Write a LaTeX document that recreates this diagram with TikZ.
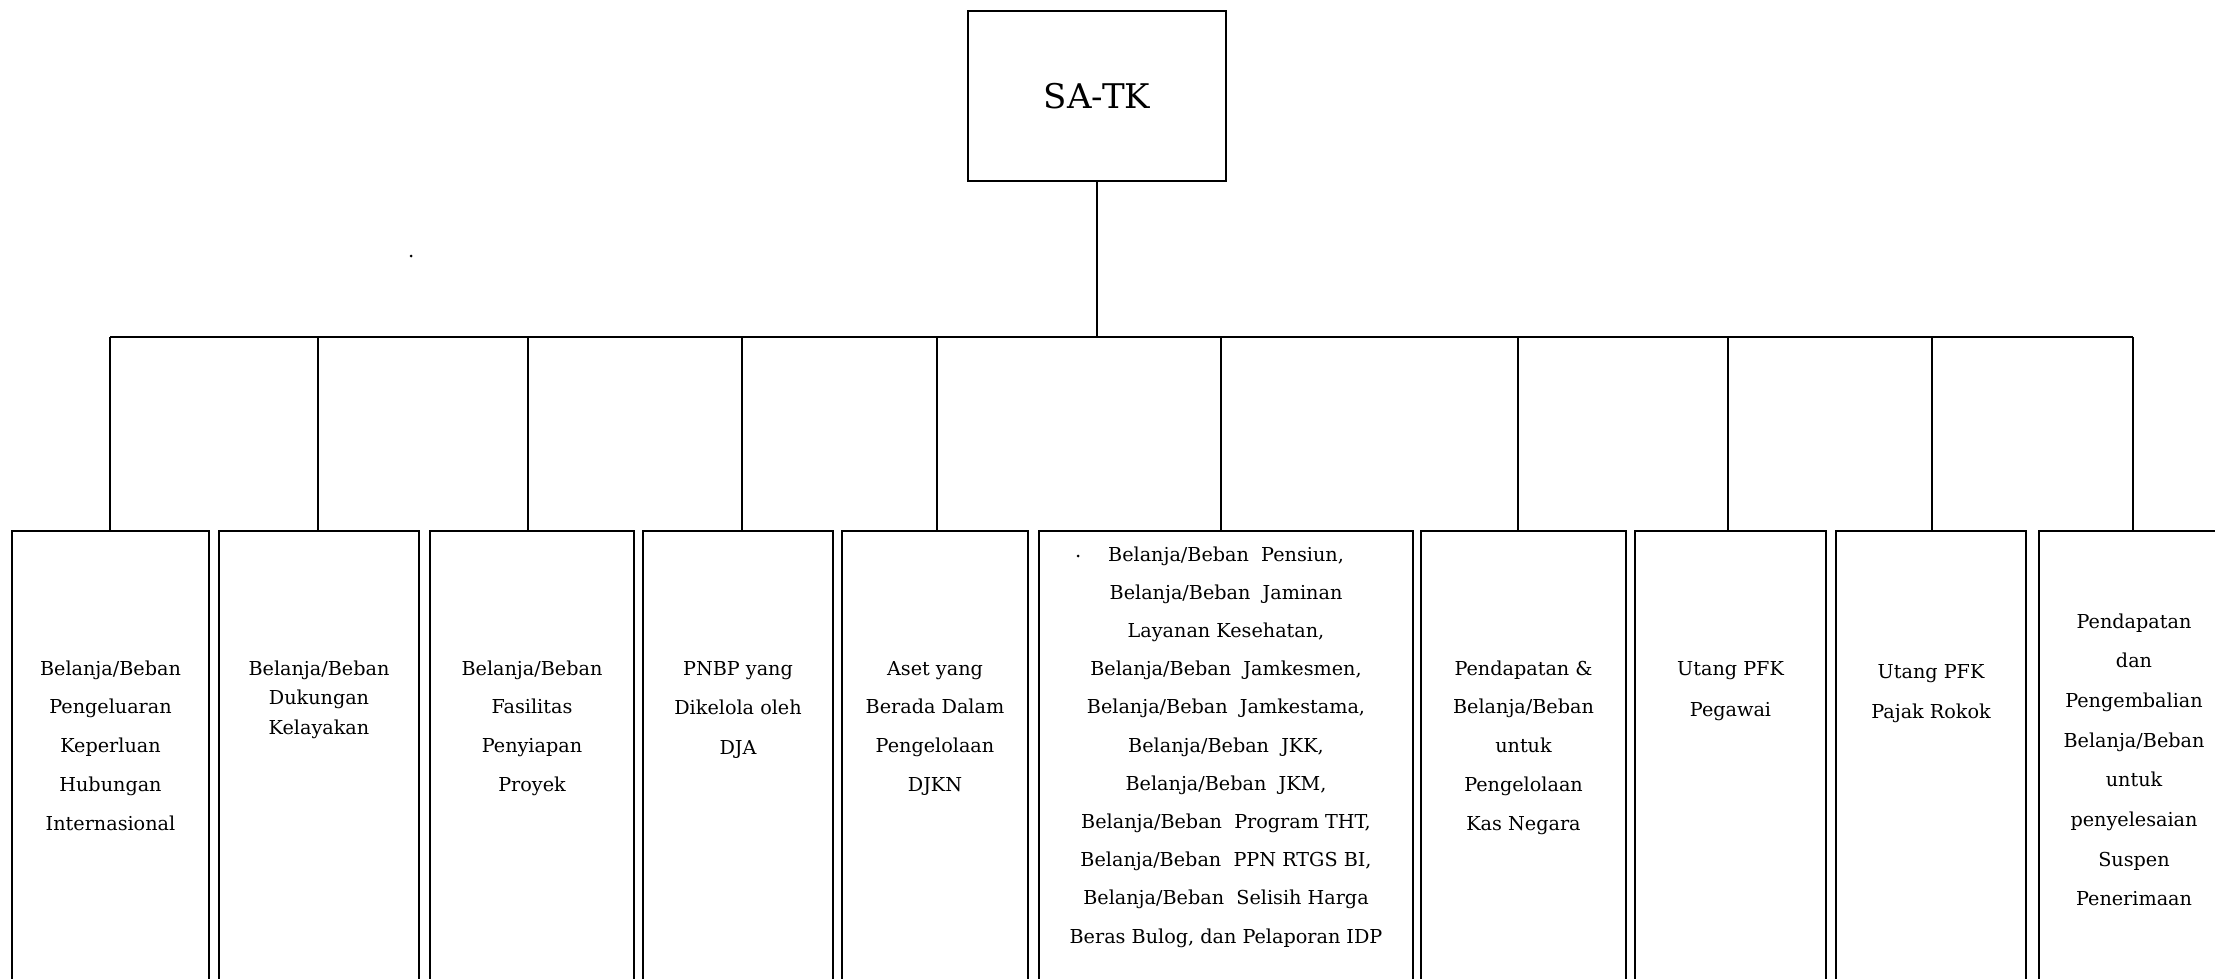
\documentclass[tikz,border=0pt]{standalone}
\usepackage{fontspec}
\setmainfont{DejaVu Serif}
\newcommand{\boxlines}[2]{\parbox[t]{190pt}{\centering\fontsize{9.6pt}{#1}\selectfont #2}}
\begin{document}
\begin{tikzpicture}[x=0.5pt,y=-0.5pt,
  topbox/.style={draw, line width=1pt, inner sep=0pt, minimum width=129pt, minimum height=85pt, font=\fontsize{17pt}{20pt}\selectfont},
  childbox/.style={draw, line width=1.1pt, inner sep=0pt, anchor=north, minimum height=270pt},
  lbl/.style={anchor=base, inner sep=0pt},
  conn/.style={line width=0.9pt}]
\useasboundingbox (0,0) rectangle (2215,979);
\clip (0,0) rectangle (2215,979);

\node[topbox] (sa) at (1097,96) {SA-TK};
\coordinate (bus) at (0,337);

\node[childbox, minimum width=98.5pt] (c1) at (110.5,530) {};
\node[childbox, minimum width=100pt] (c2) at (319,530) {};
\node[childbox, minimum width=102pt] (c3) at (532,530) {};
\node[childbox, minimum width=95pt] (c4) at (738,530) {};
\node[childbox, minimum width=93pt] (c5) at (935,530) {};
\node[childbox, minimum width=187pt] (c6) at (1226,530) {};
\node[childbox, minimum width=102.5pt] (c7) at (1523.5,530) {};
\node[childbox, minimum width=95.5pt] (c8) at (1730.5,530) {};
\node[childbox, minimum width=95pt] (c9) at (1931,530) {};
\node[childbox, minimum width=95pt] (c10) at (2134,530) {};

\foreach \i/\d in {1/110,2/318,3/528,4/742,5/937,6/1221,7/1518,8/1728,9/1932,10/2133}
  {\coordinate (d\i) at (\d,0);}
\draw[conn] (sa.south) -- (sa.south |- bus);
\draw[conn] (d1 |- bus) -- (d10 |- bus);
\foreach \i in {1,...,10} {\draw[conn] (d\i |- bus) -- (d\i |- c\i.north);}

\node[lbl] (t1) at (110.5,675) {\boxlines{19.4pt}{Belanja/Beban\\Pengeluaran\\Keperluan\\Hubungan\\Internasional}};
\node[lbl] (t2) at (319,675) {\boxlines{14.75pt}{Belanja/Beban\\Dukungan\\Kelayakan}};
\node[lbl] (t3) at (532,675) {\boxlines{19.35pt}{Belanja/Beban\\Fasilitas\\Penyiapan\\Proyek}};
\node[lbl] (t4) at (738,675) {\boxlines{19.75pt}{PNBP yang\\Dikelola oleh\\DJA}};
\node[lbl] (t5) at (935,675) {\boxlines{19.35pt}{Aset yang\\Berada Dalam\\Pengelolaan\\DJKN}};
\node[lbl] (t6) at (1226,561) {\boxlines{19.1pt}{Belanja/Beban\ \ Pensiun,\\Belanja/Beban\ \ Jaminan\\Layanan Kesehatan,\\Belanja/Beban\ \ Jamkesmen,\\Belanja/Beban\ \ Jamkestama,\\Belanja/Beban\ \ JKK,\\Belanja/Beban\ \ JKM,\\Belanja/Beban\ \ Program THT,\\Belanja/Beban\ \ PPN RTGS BI,\\Belanja/Beban\ \ Selisih Harga\\Beras Bulog, dan Pelaporan IDP}};
\node[lbl] (t7) at (1523.5,675) {\boxlines{19.4pt}{Pendapatan \&\\Belanja/Beban\\untuk\\Pengelolaan\\Kas Negara}};
\node[lbl] (t8) at (1730.5,675) {\boxlines{20.5pt}{Utang PFK\\Pegawai}};
\node[lbl] (t9) at (1931,678) {\boxlines{20pt}{Utang PFK\\Pajak Rokok}};
\node[lbl] (t10) at (2134,628) {\boxlines{19.85pt}{Pendapatan\\dan\\Pengembalian\\Belanja/Beban\\untuk\\penyelesaian\\Suspen\\Penerimaan}};

\fill (411,256) circle (1.5);
\fill (1078,556) circle (1.5);
\end{tikzpicture}
\end{document}
